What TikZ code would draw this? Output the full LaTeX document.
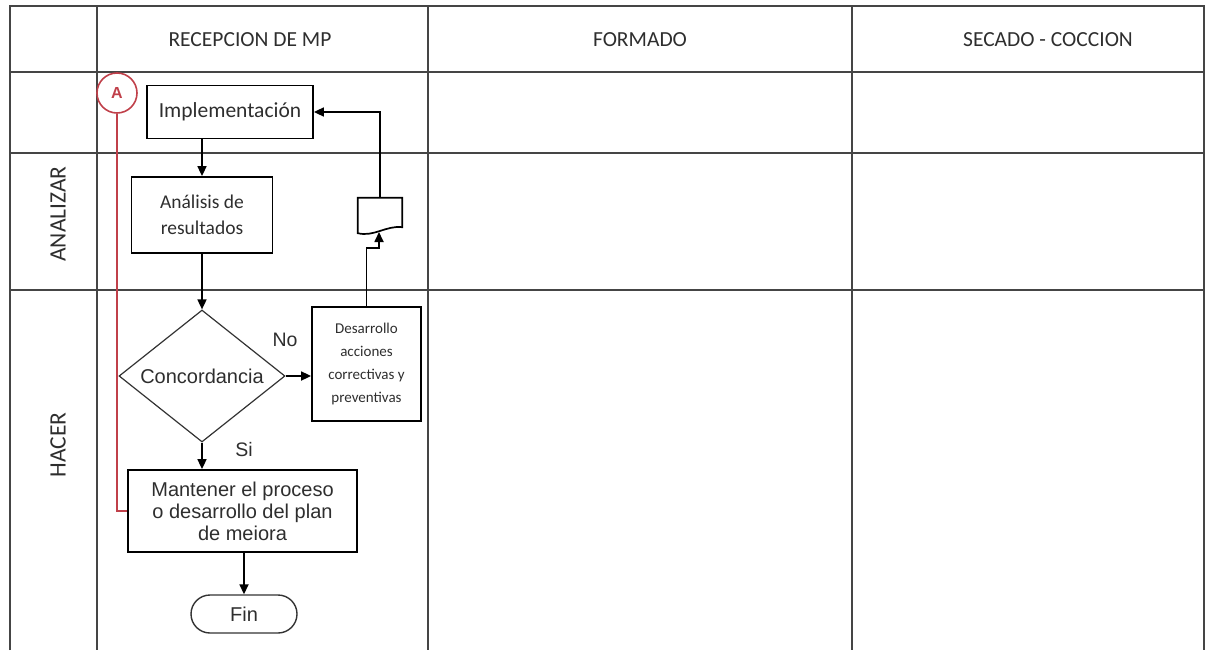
\documentclass[tikz,border=0pt]{standalone}
\usepackage{fontspec}
\setmainfont{Carlito}
\newfontfamily\arialf{Liberation Sans}
\usetikzlibrary{arrows.meta,shapes.geometric,calc}
\definecolor{lanegray}{HTML}{454545}
\definecolor{txtgray}{HTML}{2E2E2E}
\definecolor{redA}{HTML}{C0404A}
\begin{document}
\begin{tikzpicture}[x=1pt,y=-1pt,
  lane/.style={draw=lanegray,line width=2.2pt},
  hdr/.style={font=\fontsize{21.5}{25}\selectfont,text=txtgray},
  rowlbl/.style={font=\fontsize{23.5}{26}\selectfont,text=txtgray,rotate=90},
  procbox/.style={draw=black,line width=1.8pt,align=center,inner sep=0pt,text=txtgray},
  conn/.style={draw=black,line width=1.7pt,-{Triangle[length=10pt,width=9pt]}},
  lbl/.style={font=\arialf\fontsize{19.5}{22}\selectfont,text=txtgray}
]
\useasboundingbox (0,0) rectangle (1206,650);
% lanes
\draw[lane] (10,650) -- (10,6) -- (1204,6) -- (1204,650);
\foreach \yy in {72,153,290} \draw[lane] (10,\yy) -- (1204,\yy);
\foreach \xx in {97,428,852} \draw[lane] (\xx,6) -- (\xx,650);
% headers
\node[hdr] (h1) at (250,40) {RECEPCION DE MP};
\node[hdr] (h2) at (640,40) {FORMADO};
\node[hdr] (h3) at (1048,40) {SECADO - COCCION};
\node[rowlbl] (r1) at (58,214) {ANALIZAR};
\node[rowlbl] (r2) at (58,445) {HACER};
% nodes
\node[procbox,minimum width=166pt,minimum height=53pt,font=\fontsize{21.5}{24}\selectfont] (impl) at (230,112) {Implementación};
\node[procbox,minimum width=141pt,minimum height=76pt,font=\fontsize{19.5}{26}\selectfont] (anal) at (202,215) {Análisis de\\resultados};
\node[diamond,draw=black!80,line width=1.2pt,minimum width=166pt,minimum height=132pt,inner sep=0pt,aspect=1.26,font=\arialf\fontsize{20}{22}\selectfont,text=txtgray] (diam) at (202,376) {Concordancia};
\node[procbox,minimum width=109pt,minimum height=114pt,font=\fontsize{15}{23}\selectfont] (des) at (366.5,364) {Desarrollo\\acciones\\correctivas y\\preventivas};
\node[draw=none,minimum width=44pt,minimum height=33pt,inner sep=0pt] (doc) at (380,214.5) {};
\draw[black,line width=1.7pt] (doc.north west) -- ($(doc.south west)+(0,2)$) .. controls ($(doc.south west)+(16,6)$) and ($(doc.south east)+(-16,-6)$) .. ($(doc.south east)+(0,-4)$) -- (doc.north east) -- cycle;
\node[procbox,minimum width=229pt,minimum height=82pt,font=\arialf\fontsize{20}{22}\selectfont] (mant) at (242.5,511) {Mantener el proceso\\o desarrollo del plan\\de meiora};
\node[draw=black!80,line width=1.4pt,rounded corners=19pt,minimum width=106pt,minimum height=38pt,inner sep=0pt,font=\arialf\fontsize{20}{22}\selectfont,text=txtgray] (fin) at (244,614) {Fin};
\node[circle,draw=redA,line width=1.6pt,minimum size=40pt,inner sep=0pt,text=redA,font=\arialf\bfseries\fontsize{16}{18}\selectfont] (A) at (117,93) {A};
% labels
\node[lbl] (no) at (285,340) {No};
\node[lbl] (si) at (244,450) {Si};
% connectors
\draw[conn] (anal.north |- impl.south) -- (anal.north);
\draw[conn] (anal.south) -- (diam.north);
\draw[conn] (diam.east) -- (diam.east -| des.west);
\draw[conn] (diam.south) -- (diam.south |- mant.north);
\draw[conn] (mant.south -| fin.north) -- (fin.north);
\coordinate (k1) at (379,248);
\draw[conn] (des.north) |- (k1) -- (379,232);
\draw[conn] (doc.north) |- (impl.east);
\draw[redA,line width=1.4pt] (A.south) |- (mant.west);
\end{tikzpicture}
\end{document}
